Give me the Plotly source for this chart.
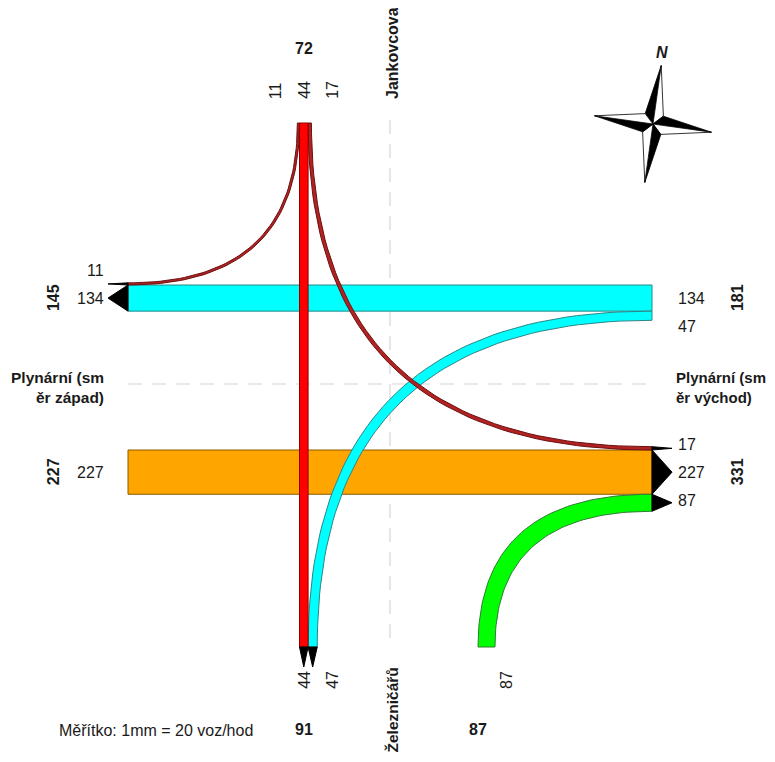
import math
import plotly.graph_objects as go

# turning movements at the junction, veh/h (origin arm -> destination arm)
flow_from = ["N", "N", "N", "E", "E", "W", "S"]
flow_to = ["W", "S", "E", "W", "S", "E", "E"]
flow_value = [11, 44, 17, 134, 47, 227, 87]
flow_fill = ["#b22222", "#ff0000", "#b22222", "#00ffff", "#00ffff", "#ffa500", "#00ff00"]
flow_edge = ["#6b1010", "#8b0000", "#6b1010", "#2b8686", "#2b8686", "#8a5a00", "#2e7d32"]

arm_codes = ["N", "E", "S", "W"]
arm_names = ["Jankovcova", "Plynární (sm<br>ěr východ)", "Železničářů", "Plynární (sm<br>ěr západ)"]
scale_note = "Měřítko: 1mm = 20 voz/hod"

# drawing geometry (px on the 775x762 page; the page body adds an 8px margin)
PAGE_OFF = 8
PAGE_W, PAGE_H = 775, 762
SCALE = 0.195          # px per veh/h
X_LEFT, X_RIGHT = 128, 652
Y_TOP, Y_BOTTOM = 123, 647
X_MID, Y_MID = 390, 384
X_SB = 299.5           # left edge of southbound through lane
X_NB = 478             # left edge of northbound lanes
Y_WB = 285             # top edge of westbound through lane
Y_EB = 450             # top edge of eastbound through lane
ARROW = 20
GAP = 28
FONT = "Liberation Sans, Arial, sans-serif"

flows = {(a, b): v for a, b, v in zip(flow_from, flow_to, flow_value)}
fills = {(a, b): c for a, b, c in zip(flow_from, flow_to, flow_fill)}
edges = {(a, b): c for a, b, c in zip(flow_from, flow_to, flow_edge)}
names = dict(zip(arm_codes, arm_names))


def w(k):
    return flows[k] * SCALE


def stack(start, keys):
    out, p = {}, start
    for k in keys:
        out[k] = (p, p + w(k))
        p += w(k)
    return out


top_in = stack(X_SB - w(("N", "W")), [("N", "W"), ("N", "S"), ("N", "E")])
bot_out = stack(X_SB, [("N", "S"), ("E", "S")])
bot_in = stack(X_NB, [("S", "E")])
left_out = stack(Y_WB - w(("N", "W")), [("N", "W"), ("E", "W")])
right_in = stack(Y_WB, [("E", "W"), ("E", "S")])
left_in = stack(Y_EB, [("W", "E")])
right_out = stack(Y_EB - w(("N", "E")), [("N", "E"), ("W", "E"), ("S", "E")])


def bez(p0, c, p1, n=60):
    xs, ys = [], []
    for i in range(n + 1):
        t = i / n
        xs.append((1 - t) ** 2 * p0[0] + 2 * (1 - t) * t * c[0] + t ** 2 * p1[0])
        ys.append((1 - t) ** 2 * p0[1] + 2 * (1 - t) * t * c[1] + t ** 2 * p1[1])
    return xs, ys


def turn(xspan, yv, yspan, xh):
    sx = 1 if xh > X_MID else -1
    sy = 1 if yv > Y_MID else -1
    ysp = yspan if sx == sy else yspan[::-1]
    (x1, y1), (x2, y2) = [bez((x0, yv), (x0, y0), (xh, y0)) for x0, y0 in zip(xspan, ysp)]
    return x1 + x2[::-1] + [x1[0]], y1 + y2[::-1] + [y1[0]]


fig = go.Figure()


def poly(xs, ys, fill, line, lw=1):
    fig.add_trace(go.Scatter(x=xs, y=ys, mode="lines", fill="toself", fillcolor=fill,
                             line=dict(color=line, width=lw), hoverinfo="skip", showlegend=False))


# road centre lines
fig.add_trace(go.Scatter(x=[X_MID, X_MID], y=[Y_TOP - 3, Y_BOTTOM], mode="lines",
                         line=dict(color="#d6d6d6", width=1.2, dash="14px,10px"),
                         hoverinfo="skip", showlegend=False))
fig.add_trace(go.Scatter(x=[X_LEFT, X_RIGHT], y=[Y_MID, Y_MID], mode="lines",
                         line=dict(color="#d6d6d6", width=1.2, dash="14px,10px"),
                         hoverinfo="skip", showlegend=False))

# through movements E-W
k = ("W", "E")
a, b = left_in[k]
poly([X_LEFT, X_RIGHT, X_RIGHT, X_LEFT, X_LEFT], [a, a, b, b, a], fills[k], edges[k])
k = ("E", "W")
a, b = right_in[k]
poly([X_LEFT, X_RIGHT, X_RIGHT, X_LEFT, X_LEFT], [a, a, b, b, a], fills[k], edges[k])

# turning movements
k = ("S", "E")
poly(*turn(bot_in[k], Y_BOTTOM, right_out[k], X_RIGHT), fills[k], edges[k])
k = ("E", "S")
poly(*turn(bot_out[k], Y_BOTTOM, right_in[k], X_RIGHT), fills[k], edges[k])
k = ("N", "W")
poly(*turn(top_in[k], Y_TOP, left_out[k], X_LEFT), fills[k], edges[k])
k = ("N", "E")
poly(*turn(top_in[k], Y_TOP, right_out[k], X_RIGHT), fills[k], edges[k])

# through movement N-S
k = ("N", "S")
a, b = top_in[k]
poly([a, b, b, a, a], [Y_TOP, Y_TOP, Y_BOTTOM, Y_BOTTOM, Y_TOP], fills[k], edges[k])

# exit arrows
for k, (a, b) in left_out.items():
    poly([X_LEFT, X_LEFT - ARROW, X_LEFT, X_LEFT], [a, (a + b) / 2, b, a], "black", "black")
for k, (a, b) in right_out.items():
    poly([X_RIGHT, X_RIGHT + ARROW, X_RIGHT, X_RIGHT], [a, (a + b) / 2, b, a], "black", "black")
for k, (a, b) in bot_out.items():
    poly([a, (a + b) / 2, b, a], [Y_BOTTOM, Y_BOTTOM + ARROW, Y_BOTTOM, Y_BOTTOM], "black", "black")

# compass rose
CX, CY, CR, CIN, CROT = 653, 124, 59, 13, 8
for i in range(4):
    r = math.radians(CROT + 90 * i)
    tip = (CX + CR * math.sin(r), CY - CR * math.cos(r))
    for sgn, col in ((-1, "black"), (1, "white")):
        q = r + sgn * math.radians(45)
        inner = (CX + CIN * math.sin(q), CY - CIN * math.cos(q))
        poly([CX, tip[0], inner[0], CX], [CY, tip[1], inner[1], CY], col, "black", 0.8)

annotations = []


def label(x, y, text, bold=False, angle=0, xa="center", ya="middle", size=16, align="center"):
    if bold:
        text = "<b>" + text + "</b>"
    annotations.append(dict(x=x, y=y, xref="x", yref="y", text=text, showarrow=False,
                            textangle=angle, xanchor=xa, yanchor=ya, align=align,
                            font=dict(family=FONT, size=size, color="#1a1a1a")))


def spread(ref, n, k):
    return [ref + (i - k) * GAP for i in range(n)]


def centre(span):
    return (span[0] + span[1]) / 2


# north arm
ref = centre(top_in[("N", "S")])
for p, key in zip(spread(ref, 3, 1), top_in):
    label(p, Y_TOP - 22, str(flows[key]), angle=-90, ya="bottom")
label(ref, 48, str(sum(flows[q] for q in top_in)), bold=True)
label(X_MID + 2, Y_TOP - 22, names["N"], bold=True, angle=-90, ya="bottom")

# south arm
ref = centre(bot_out[("N", "S")])
for p, key in zip(spread(ref, 2, 0), bot_out):
    label(p, Y_BOTTOM + 22, str(flows[key]), angle=-90, ya="top")
label(ref, 729, str(sum(flows[q] for q in bot_out)), bold=True)
for p, key in zip(spread(X_NB, 1, -1), bot_in):
    label(p, Y_BOTTOM + 22, str(flows[key]), angle=-90, ya="top")
label(X_NB, 729, str(sum(flows[q] for q in bot_in)), bold=True)
label(X_MID + 2, Y_BOTTOM + 19, names["S"], bold=True, angle=-90, ya="top", size=15.5)

# west arm
ref = centre(left_out[("E", "W")])
for p, key in zip(spread(ref, 2, 1), left_out):
    label(X_LEFT - 22, p, str(flows[key]), xa="right")
label(53, ref, str(sum(flows[q] for q in left_out)), bold=True, angle=-90)
ref = centre(left_in[("W", "E")])
for p, key in zip(spread(ref, 1, 0), left_in):
    label(X_LEFT - 22, p, str(flows[key]), xa="right")
label(53, ref, str(sum(flows[q] for q in left_in)), bold=True, angle=-90)
label(X_LEFT - 22, Y_MID + 3, names["W"], bold=True, xa="right", align="right", size=15.5)

# east arm
ref = centre(right_in[("E", "W")])
for p, key in zip(spread(ref, 2, 0), right_in):
    label(X_RIGHT + 24, p, str(flows[key]), xa="left")
label(737, ref, str(sum(flows[q] for q in right_in)), bold=True, angle=-90)
ref = centre(right_out[("W", "E")])
for p, key in zip(spread(ref, 3, 1), right_out):
    label(X_RIGHT + 24, p, str(flows[key]), xa="left")
label(737, ref, str(sum(flows[q] for q in right_out)), bold=True, angle=-90)
label(X_RIGHT + 22, Y_MID + 3, names["E"], bold=True, xa="left", align="left", size=15)

label(57, 730, scale_note, xa="left", size=16)
label(CX + 9, CY - 72, "<i>N</i>", bold=True)

# keep the figure inside the page (body margin 8px on every side)
fig.update_layout(
    width=PAGE_W - 2 * PAGE_OFF, height=PAGE_H - 2 * PAGE_OFF,
    margin=dict(l=0, r=0, t=0, b=0),
    paper_bgcolor="white", plot_bgcolor="white",
    xaxis=dict(range=[PAGE_OFF, PAGE_W - PAGE_OFF], visible=False, fixedrange=True),
    yaxis=dict(range=[PAGE_H - PAGE_OFF, PAGE_OFF], visible=False, fixedrange=True),
    annotations=annotations,
    showlegend=False,
)

fig.write_html("out.html", config={"displayModeBar": False})
